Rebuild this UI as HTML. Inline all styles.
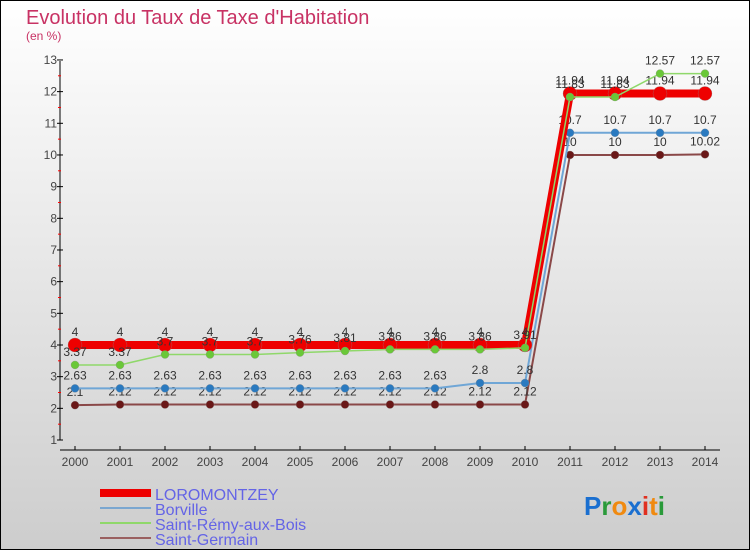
<!DOCTYPE html>
<html><head><meta charset="utf-8"><style>
body{margin:0;}
#c{width:750px;height:550px;position:relative;font-family:"Liberation Sans",sans-serif;}
</style></head><body>
<div id="c">
<svg id="s" width="750" height="550" xmlns="http://www.w3.org/2000/svg">
<defs><linearGradient id="bg" x1="0" y1="0" x2="0" y2="1"><stop offset="0" stop-color="#ffffff"/><stop offset="1" stop-color="#cdcdcd"/></linearGradient></defs>
<rect x="0.5" y="0.5" width="749" height="549" fill="url(#bg)" stroke="#000"/>
<text x="26" y="24" font-size="20" fill="#c83264">Evolution du Taux de Taxe d'Habitation</text>
<text x="26" y="40" font-size="12" fill="#c83264">(en %)</text>
<g id="axes"></g>
<g id="marks"></g>
<g>
<rect x="100" y="489" width="51" height="8" fill="#e00"/>
<text x="155" y="500" font-size="16" fill="#6464e6">LOROMONTZEY</text>
<rect x="100" y="507" width="51" height="2" fill="#7ba7d0"/>
<text x="155" y="515" font-size="16" fill="#6464e6">Borville</text>
<rect x="100" y="522" width="51" height="2" fill="#8fd86a"/>
<text x="155" y="530" font-size="16" fill="#6464e6">Saint-Rémy-aux-Bois</text>
<rect x="100" y="537" width="51" height="2" fill="#9a6060"/>
<text x="155" y="545" font-size="16" fill="#6464e6">Saint-Germain</text>
</g>
<g font-size="26" font-weight="bold" font-family="'Liberation Sans',sans-serif">
<text x="584" y="515"><tspan fill="#1a6fd0">P</tspan><tspan fill="#2a9a3a">r</tspan><tspan fill="#f08a10">o</tspan><tspan fill="#1a6fd0">x</tspan><tspan fill="#e03020">i</tspan><tspan fill="#f08a10">t</tspan><tspan fill="#2a9a3a">i</tspan></text>
</g>
</svg>
</div>
<script>
const years=[2000,2001,2002,2003,2004,2005,2006,2007,2008,2009,2010,2011,2012,2013,2014];
const loromontzey=[4,4,4,4,4,4,4,4,4,4,4,11.94,11.94,11.94,11.94];
const borville=[2.63,2.63,2.63,2.63,2.63,2.63,2.63,2.63,2.63,2.8,2.8,10.7,10.7,10.7,10.7];
const saintRemy=[3.37,3.37,3.7,3.7,3.7,3.76,3.81,3.86,3.86,3.86,3.91,11.83,11.83,12.57,12.57];
const saintGermain=[2.1,2.12,2.12,2.12,2.12,2.12,2.12,2.12,2.12,2.12,2.12,10,10,10,10.02];
const yTicks=[1,2,3,4,5,6,7,8,9,10,11,12,13];
const NS="http://www.w3.org/2000/svg";
function xS(i){return 75+i*45;}
function yS(v){return 440-(v-1)*31.67;}
function mk(tag,attrs,parent){const e=document.createElementNS(NS,tag);for(const k in attrs)e.setAttribute(k,attrs[k]);parent.appendChild(e);return e;}
const ax=document.getElementById('axes'),mg=document.getElementById('marks');
let l=mk('line',{x1:60,y1:61,x2:60,y2:440,stroke:'#000'},ax);


yTicks.forEach(v=>{
 mk('line',{x1:57,y1:yS(v),x2:63,y2:yS(v),stroke:'#000'},ax);
 if(v<13)mk('line',{x1:58,y1:yS(v+0.5),x2:61,y2:yS(v+0.5),stroke:'#f00'},ax);
 const t=mk('text',{x:57,y:yS(v)+4,'font-size':12,fill:'#444','text-anchor':'end'},ax);t.textContent=v;
 
 
});
l=mk('line',{x1:60,y1:450,x2:720,y2:450,stroke:'#000'},ax);


years.forEach((y,i)=>{
 mk('line',{x1:xS(i),y1:446,x2:xS(i),y2:450,stroke:'#000'},ax);
 const t=mk('text',{x:xS(i),y:466,'font-size':12,fill:'#444','text-anchor':'middle'},ax);t.textContent=y;
 
 
});
function series(vals,name,color,lw,r,dot){
 const g=mk('g',{},mg);
 
 
 const p=mk('polyline',{points:vals.map((v,i)=>xS(i)+','+yS(v)).join(' '),fill:'none',stroke:color,'stroke-width':lw},g);
 
 
 vals.forEach((v,i)=>{
  const c=mk('circle',{cx:xS(i),cy:yS(v),r:r,fill:dot,stroke:'#888','stroke-width':0.3},g);
  
  
  const t=mk('text',{x:xS(i),y:yS(v)-9,'font-size':12,fill:'#333','text-anchor':'middle'},g);t.textContent=v;
  
  
 });
}
series(saintGermain,'saint-germain','#8a4848',2,4,'#6a1818');
series(borville,'borville','#6fa6d6',2,4,'#2a7ac0');
series(loromontzey,'loromontzey','#e00',8,7,'#e00');
series(saintRemy,'saint-remy','#8fd86a',1.5,4,'#6ac838');
</script>
</body></html>
